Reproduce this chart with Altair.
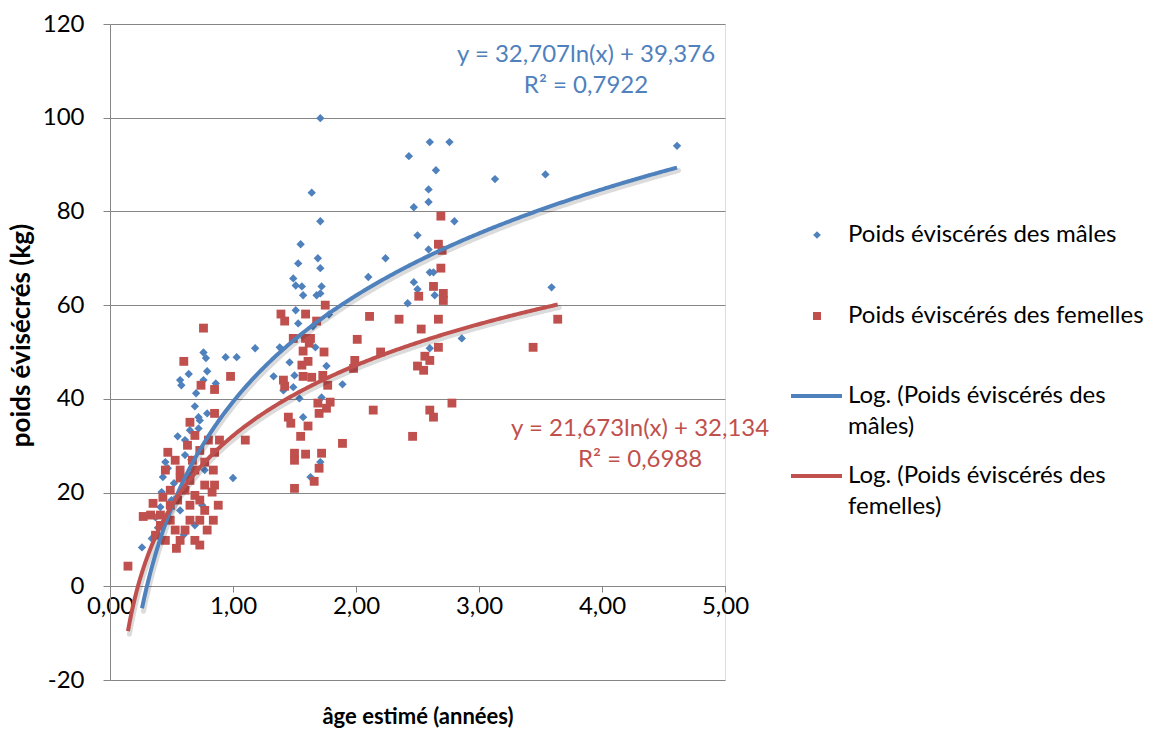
import altair as alt
import pandas as pd

# ---------------- data ----------------
male_age = [4.61, 3.54, 3.13, 3.59, 2.60, 2.76, 2.43, 2.65, 2.59, 2.59, 2.47, 2.80, 2.50, 2.59,
            2.60, 2.63, 2.47, 2.50, 2.64, 2.42, 2.86, 2.60,
            1.71, 1.64, 1.71, 1.55, 1.53, 1.69, 1.71, 1.49, 1.51, 1.56, 1.57, 1.72, 1.68, 1.71,
            2.10, 2.24, 1.51, 1.53, 1.38, 1.67, 1.46, 1.76, 1.33, 1.50, 1.49, 1.41, 1.89, 1.54,
            1.72, 1.57, 1.71, 1.63, 1.18, 1.00, 1.58, 1.65, 1.78,
            0.76, 0.78, 0.94, 1.03, 0.64, 0.79, 0.57, 0.58, 0.76, 0.86, 0.70, 0.69, 0.72, 0.79,
            0.65, 0.55, 0.72,
            0.45, 0.43, 0.42, 0.37, 0.34, 0.26, 0.54, 0.75, 0.47, 0.61, 0.65, 0.50, 0.57, 0.69,
            0.41, 0.77, 0.61, 0.73, 0.49, 0.60, 0.39, 0.66, 0.52]
male_weight = [94.0, 87.9, 86.9, 63.8, 94.8, 94.8, 91.8, 88.8, 84.7, 82.0, 80.9, 77.9, 74.9, 71.9,
               67.0, 67.0, 64.9, 63.4, 62.1, 60.4, 52.9, 50.8,
               99.9, 84.0, 77.9, 73.0, 68.9, 70.0, 67.9, 65.7, 64.2, 64.0, 62.1, 64.0, 62.1, 62.5,
               66.0, 70.0, 58.9, 56.1, 51.0, 51.0, 47.8, 47.0, 44.8, 45.0, 42.5, 41.8, 43.1, 40.1,
               40.3, 36.1, 26.5, 23.3, 50.8, 23.1, 53.0, 55.5, 58.0,
               49.9, 48.7, 48.9, 48.9, 45.3, 45.9, 44.0, 42.9, 44.0, 43.3, 41.2, 38.4, 36.1, 36.9,
               33.3, 32.0, 33.7,
               26.5, 23.3, 20.1, 14.7, 10.2, 8.3, 8.1, 17.3, 25.2, 28.0, 23.7, 18.4, 16.2, 13.0,
               16.9, 24.8, 31.2, 35.4, 20.5, 11.0, 12.5, 27.0, 22.0]

female_age = [2.69, 2.67, 2.70, 2.69, 2.63, 2.51, 2.71, 2.71, 2.67, 2.53, 2.67, 3.44, 3.64, 2.56,
              2.60, 2.50, 2.55, 2.78, 2.60, 2.63, 2.46,
              2.11, 2.35, 2.01, 2.20, 1.99, 1.98, 2.14, 1.89,
              1.75, 1.39, 1.42, 1.59, 1.68, 1.49, 1.59, 1.63, 1.62, 1.74, 1.57, 1.61, 1.56, 1.57,
              1.64, 1.73, 1.77, 1.41, 1.42, 1.69, 1.79, 1.70, 1.76, 1.45, 1.47, 1.61, 1.55, 1.50,
              1.50, 1.59, 1.72, 1.70, 1.66, 1.50,
              0.76, 0.60, 0.98, 0.74, 0.85, 0.85, 0.65, 1.10, 0.89,
              0.35, 0.33, 0.27, 0.43, 0.49, 0.57, 0.57, 0.69, 0.67, 0.73, 0.77, 0.85, 0.84, 0.77,
              0.83, 0.73, 0.77, 0.84, 0.79, 0.69, 0.57, 0.45, 0.41, 0.41, 0.49, 0.53, 0.65, 0.73,
              0.65, 0.61, 0.53, 0.45, 0.47, 0.63, 0.69, 0.54, 0.61, 0.65, 0.55, 0.69, 0.49, 0.37,
              0.88, 0.85, 0.80, 0.73, 0.146]
female_weight = [79.0, 73.0, 71.7, 67.9, 64.0, 61.9, 62.5, 61.0, 57.0, 54.9, 51.0, 51.0, 57.0, 49.1,
                 48.2, 47.0, 46.1, 39.1, 37.6, 36.1, 32.0,
                 57.6, 57.0, 52.7, 50.0, 48.2, 46.5, 37.6, 30.5,
                 60.0, 58.1, 56.6, 58.1, 56.6, 52.9, 52.9, 52.9, 51.9, 50.0, 50.2, 48.0, 47.2, 44.8,
                 44.6, 45.0, 42.9, 44.0, 42.7, 39.1, 39.3, 36.9, 38.0, 36.1, 34.8, 34.2, 32.0, 28.4,
                 26.9, 28.2, 28.4, 25.2, 22.4, 20.9,
                 55.1, 48.0, 44.8, 42.9, 42.0, 36.9, 35.0, 31.2, 31.2,
                 17.7, 15.2, 14.9, 19.0, 20.5, 23.1, 24.8, 24.8, 26.9, 29.0, 26.5, 28.6, 24.8, 21.6,
                 20.1, 18.4, 16.2, 14.1, 12.0, 9.8, 9.8, 9.8, 13.0, 15.2, 17.3, 12.0, 14.1, 14.1,
                 17.3, 20.5, 26.9, 24.8, 28.6, 30.1, 32.2, 8.1, 12.0, 22.6, 18.4, 19.4, 14.1, 10.9,
                 17.3, 21.6, 31.2, 8.8, 4.3]

# logarithmic trendlines (coefficients as printed on the chart)
male_coef = [32.707, 39.376]
female_coef = [21.673, 32.134]

legend_labels = ["Poids éviscérés des mâles", "Poids éviscérés des femelles",
                 "Log. (Poids éviscérés des", "mâles)",
                 "Log. (Poids éviscérés des", "femelles)"]

BLUE = "#4F81BD"
RED = "#C0504D"
GRID = "#868686"
FONT = "Lato"
FS = 24

males = pd.DataFrame({"age": male_age, "poids": male_weight})
females = pd.DataFrame({"age": female_age, "poids": female_weight})

xs = alt.Scale(domain=[0, 5], nice=False, zero=False)
ys = alt.Scale(domain=[-20, 120], nice=False, zero=False)

x_enc = alt.X("age:Q", scale=xs, axis=alt.Axis(
    title="âge estimé (années)", values=[0, 1, 2, 3, 4, 5],
    labelExpr="replace(format(datum.value, '.2f'), '.', ',')",
    labelFlush=False, labelOverlap=False,
    offset=-94, grid=False, domainColor=GRID, tickColor=GRID, tickSize=6,
    labelPadding=2, labelFontSize=FS, labelColor="#000", labelFont=FONT,
    titleFont=FONT, titleFontSize=22, titleFontWeight="bold", titleColor="#000",
    titleY=120, titleBaseline="top"))
y_enc = alt.Y("poids:Q", scale=ys, axis=alt.Axis(
    title="poids évisécrés (kg)", values=list(range(-20, 121, 20)),
    labelExpr="datum.value < 0 ? '-' + abs(datum.value) : '' + datum.value",
    labelFlush=False, labelOverlap=False,
    grid=True, gridColor=GRID, gridWidth=1, domainColor=GRID, tickColor=GRID, tickSize=7,
    labelPadding=19, labelFontSize=FS, labelColor="#000", labelFont=FONT,
    titleFont=FONT, titleFontSize=26, titleFontWeight="bold", titleColor="#000",
    titleX=-89, titleY=311, titleAlign="center", titleBaseline="middle", titleAngle=-90))

male_pts = alt.Chart(males).mark_point(shape="diamond", filled=True, opacity=1,
                                        color=BLUE, size=70).encode(x=x_enc, y=y_enc)
female_pts = alt.Chart(females).mark_point(shape="square", filled=True, opacity=1,
                                            color=RED, size=78).encode(x="age:Q", y="poids:Q")


def trend(coef, xmin, xmax, color, shadow=False):
    base = alt.Chart(alt.sequence(0, 1.0001, 0.004, as_="t")).transform_calculate(
        age=f"{xmin} + datum.t * ({xmax} - {xmin})"
    ).transform_calculate(
        poids=f"{coef[0]} * log(datum.age) + {coef[1]}"
    )
    if shadow:
        m = base.mark_line(color="#000", opacity=0.14, strokeWidth=5, xOffset=1.5, yOffset=3,
                           strokeCap="round")
    else:
        m = base.mark_line(color=color, strokeWidth=4, strokeCap="butt")
    return m.encode(x="age:Q", y="poids:Q", order="t:Q")


male_min, male_max = min(male_age), max(male_age)
fem_min, fem_max = min(female_age), max(female_age)

trends = [
    trend(male_coef, male_min, male_max, BLUE, shadow=True),
    trend(female_coef, fem_min, fem_max, RED, shadow=True),
    trend(male_coef, male_min, male_max, BLUE),
    trend(female_coef, fem_min, fem_max, RED),
]

eq = pd.DataFrame({
    "txt": ["y = 32,707ln(x) + 39,376", "R² = 0,7922", "y = 21,673ln(x) + 32,134", "R² = 0,6988"],
    "age": [3.87, 3.87, 4.31, 4.31],
    "poids": [113.3, 106.7, 33.5, 26.9],
    "serie": ["m", "m", "f", "f"],
})
eq_text = alt.Chart(eq).mark_text(font=FONT, fontSize=FS, align="center", baseline="middle").encode(
    x="age:Q", y="poids:Q", text="txt:N",
    color=alt.Color("serie:N", scale=alt.Scale(domain=["m", "f"], range=[BLUE, RED]), legend=None))

# ---------------- manual legend (Excel style, right of plot) ----------------
leg_sym_m = alt.Chart(pd.DataFrame({"a": [0]})).mark_point(
    shape="diamond", filled=True, opacity=1, color=BLUE, size=60).encode(
    x=alt.value(707), y=alt.value(211))
leg_sym_f = alt.Chart(pd.DataFrame({"a": [0]})).mark_point(
    shape="square", filled=True, opacity=1, color=RED, size=64).encode(
    x=alt.value(707), y=alt.value(292))
leg_line_m = alt.Chart(pd.DataFrame({"a": [0]})).mark_rule(color=BLUE, strokeWidth=4).encode(
    x=alt.value(681), x2=alt.value(732), y=alt.value(372))
leg_line_f = alt.Chart(pd.DataFrame({"a": [0]})).mark_rule(color=RED, strokeWidth=4).encode(
    x=alt.value(681), x2=alt.value(732), y=alt.value(452))

leg_texts = []
for label, ypos in zip(legend_labels, [211, 292, 372, 403, 452, 483]):
    leg_texts.append(
        alt.Chart(pd.DataFrame({"t": [label]})).mark_text(
            font=FONT, fontSize=FS, align="left", baseline="middle", color="#000").encode(
            x=alt.value(738), y=alt.value(ypos), text="t:N"))

chart = alt.layer(
    male_pts, female_pts, *trends, eq_text,
    leg_sym_m, leg_sym_f, leg_line_m, leg_line_f, *leg_texts
).properties(
    width=615, height=656,
    autosize=alt.AutoSizeParams(type="none"),
    padding={"left": 110, "top": 24, "right": 429, "bottom": 53},
).configure_view(stroke=None).configure(background="white")

chart.save("out.html", embed_options={"renderer": "svg", "actions": False})
